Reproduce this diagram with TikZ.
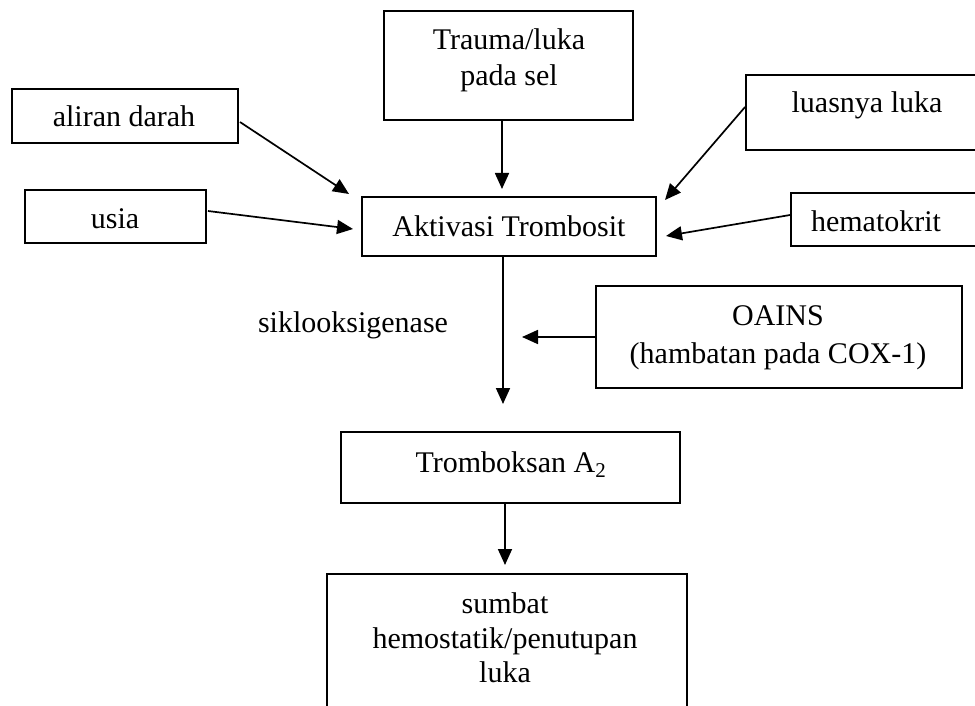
\documentclass[tikz,border=0pt]{standalone}
\usepackage{fontspec}
\setmainfont{Liberation Serif}
\usetikzlibrary{arrows.meta,calc}
\begin{document}
\begin{tikzpicture}[x=1pt,y=-1pt,
  box/.style={draw, line width=1.9pt, inner sep=0pt},
  txt/.style={anchor=base, inner sep=0pt, font=\fontsize{30}{34}\selectfont},
  arr/.style={line width=1.7pt, -{Triangle[length=16pt,width=14pt]}}]
\useasboundingbox (0,0) rectangle (975,706);
% boxes
\node[box, minimum width=249pt, minimum height=109pt] (trauma) at (508.5,65.5) {};
\node[box, minimum width=226pt, minimum height=54pt] (aliran) at (125,116) {};
\node[box, minimum width=181pt, minimum height=53pt] (usia) at (115.5,216.5) {};
\node[box, minimum width=294pt, minimum height=59pt] (akt) at (509,226.5) {};
\node[box, minimum width=249pt, minimum height=75pt] (luas) at (870.5,112.5) {};
\node[box, minimum width=204pt, minimum height=53pt] (hema) at (893,219.5) {};
\node[box, minimum width=366pt, minimum height=102pt] (oains) at (779,337) {};
\node[box, minimum width=339pt, minimum height=71pt] (trom) at (510.5,467.5) {};
\node[box, minimum width=360pt, minimum height=146pt] (sumbat) at (507,647) {};
% texts
\node[txt] (traumaA) at (509,50) {Trauma/luka};
\node[txt] (traumaB) at (509,86) {pada sel};
\node[txt] (aliranT) at (124,127) {aliran darah};
\node[txt] (usiaT) at (115,228) {usia};
\node[txt] (aktT) at (509,236) {Aktivasi Trombosit};
\node[txt] (luasT) at (867,113) {luasnya luka};
\node[txt] (hemaT) at (876,231) {hematokrit};
\node[txt] (siklT) at (353,332) {siklooksigenase};
\node[txt] (oainsA) at (778,325) {OAINS};
\node[txt] (oainsB) at (778,363) {(hambatan pada COX-1)};
\node[txt] (tromT) at (511,472) {Tromboksan A\textsubscript{2}};
\node[txt] (sumbatA) at (505,613) {sumbat};
\node[txt] (sumbatB) at (505,648) {hemostatik/penutupan};
\node[txt] (sumbatC) at (505,682) {luka};
% arrow ends
\coordinate (t1) at (349,194);
\coordinate (t2) at (353,229);
\coordinate (t3) at (502,189);
\coordinate (t4) at (665,200);
\coordinate (t5) at (666,236);
\coordinate (t6) at (503,404);
\coordinate (t7) at (522,337);
\coordinate (t8) at (505,565);
% connectors
\draw[arr] ($(aliran.east)+(1,6)$) -- (t1);
\draw[arr] ($(usia.east)+(1,-5.5)$) -- (t2);
\draw[arr] ($(trauma.south)+(-6.5,0)$) -- (t3);
\draw[arr] ($(luas.west)+(0,-5.5)$) -- (t4);
\draw[arr] ($(hema.west)+(0,-4.5)$) -- (t5);
\draw[arr] ($(akt.south)+(-6,0)$) -- (t6);
\draw[arr] (oains.west) -- (t7);
\draw[arr] ($(trom.south)+(-5.5,0)$) -- (t8);
\end{tikzpicture}
\end{document}
